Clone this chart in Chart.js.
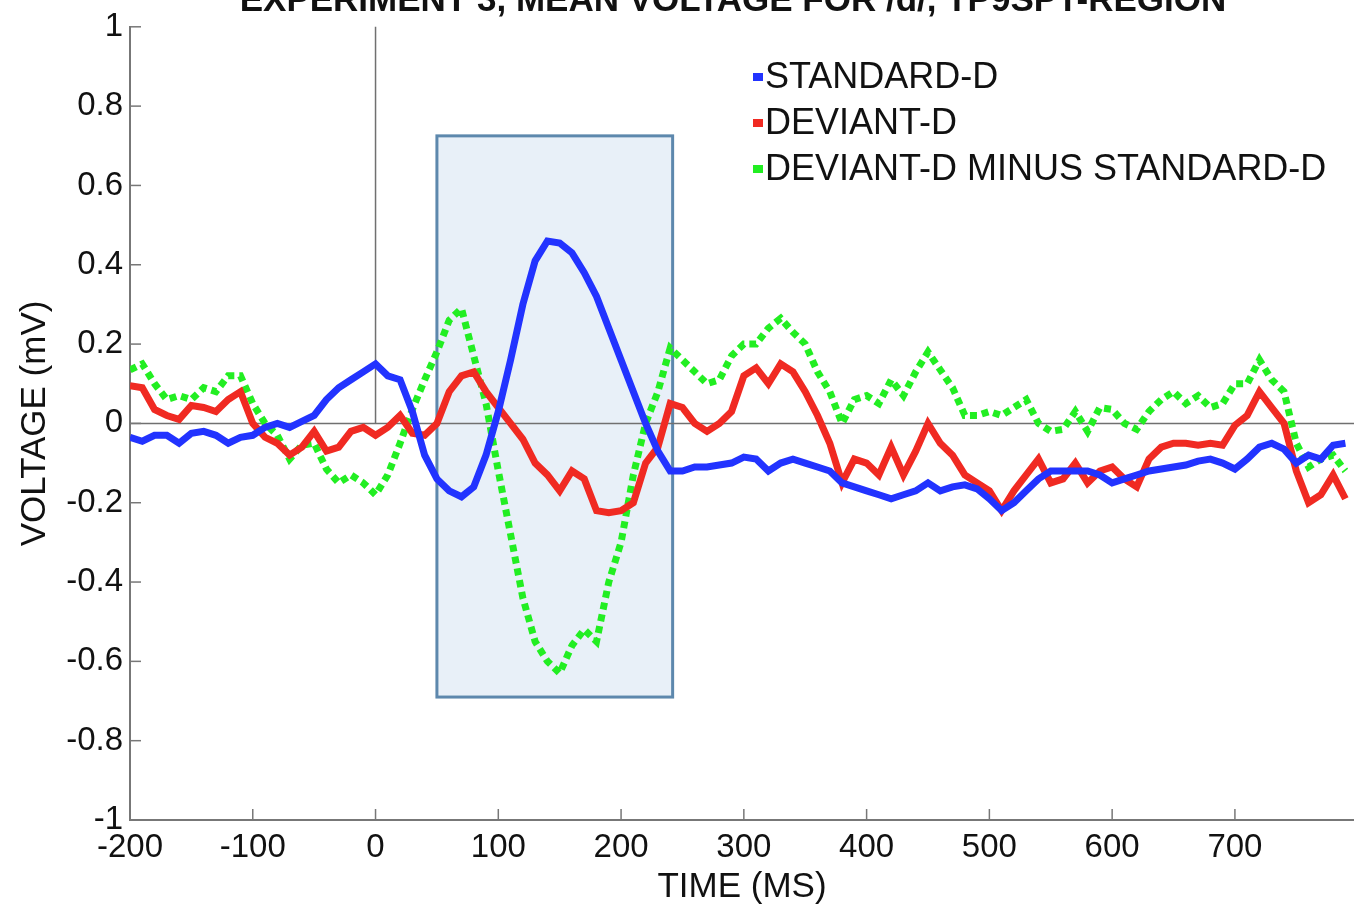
<!DOCTYPE html>
<html>
<head>
<meta charset="utf-8">
<script src="https://cdn.jsdelivr.net/npm/chart.js@4.4.1/dist/chart.umd.min.js"></script>
<style>
  html, body { margin: 0; padding: 0; background: #ffffff; }
  #wrap { width: 1354px; height: 909px; position: relative; }
</style>
</head>
<body>
<div id="wrap"><canvas id="c" width="1354" height="909"></canvas></div>
<script>
const chartTitle = "EXPERIMENT 3, MEAN VOLTAGE FOR /d/, TP9SPT-REGION";
const xAxisTitle = "TIME (MS)";
const yAxisTitle = "VOLTAGE (mV)";
const seriesLabels = ["STANDARD-D", "DEVIANT-D", "DEVIANT-D MINUS STANDARD-D"];

const times = [-200,-190,-180,-170,-160,-150,-140,-130,-120,-110,
  -100,-90,-80,-70,-60,-50,-40,-30,-20,-10,
  0,10,20,30,40,50,60,70,80,90,
  100,110,120,130,140,150,160,170,180,190,
  200,210,220,230,240,250,260,270,280,290,
  300,310,320,330,340,350,360,370,380,390,
  400,410,420,430,440,450,460,470,480,490,
  500,510,520,530,540,550,560,570,580,590,
  600,610,620,630,640,650,660,670,680,690,
  700,710,720,730,740,750,760,770,780,790];

const standardD = [-0.035,-0.045,-0.03,-0.03,-0.05,-0.025,-0.02,-0.03,-0.05,-0.035,
  -0.03,-0.01,0.0,-0.01,0.005,0.02,0.06,0.09,0.11,0.13,
  0.15,0.12,0.11,0.03,-0.08,-0.14,-0.17,-0.185,-0.16,-0.08,
  0.03,0.16,0.3,0.41,0.46,0.455,0.43,0.38,0.32,0.24,
  0.16,0.08,0.0,-0.07,-0.12,-0.12,-0.11,-0.11,-0.105,-0.1,
  -0.085,-0.09,-0.12,-0.1,-0.09,-0.1,-0.11,-0.12,-0.15,-0.16,
  -0.17,-0.18,-0.19,-0.18,-0.17,-0.15,-0.17,-0.16,-0.155,-0.165,
  -0.19,-0.22,-0.2,-0.17,-0.14,-0.12,-0.12,-0.12,-0.12,-0.13,
  -0.15,-0.14,-0.13,-0.12,-0.115,-0.11,-0.105,-0.095,-0.09,-0.1,
  -0.115,-0.09,-0.06,-0.05,-0.065,-0.1,-0.08,-0.09,-0.055,-0.05];

const deviantD = [0.095,0.09,0.035,0.02,0.01,0.045,0.04,0.03,0.06,0.08,
  0.0,-0.035,-0.05,-0.08,-0.06,-0.02,-0.07,-0.06,-0.02,-0.01,
  -0.03,-0.01,0.02,-0.025,-0.03,0.0,0.08,0.12,0.13,0.08,
  0.04,0.0,-0.04,-0.1,-0.13,-0.17,-0.12,-0.14,-0.22,-0.225,
  -0.22,-0.2,-0.1,-0.06,0.05,0.04,0.0,-0.02,0.0,0.03,
  0.12,0.14,0.1,0.15,0.13,0.08,0.02,-0.05,-0.15,-0.09,
  -0.1,-0.13,-0.06,-0.13,-0.07,0.0,-0.05,-0.08,-0.13,-0.15,
  -0.17,-0.22,-0.17,-0.13,-0.09,-0.15,-0.14,-0.1,-0.15,-0.12,
  -0.11,-0.14,-0.16,-0.09,-0.06,-0.05,-0.05,-0.055,-0.05,-0.055,
  -0.005,0.02,0.08,0.04,0.0,-0.12,-0.2,-0.18,-0.13,-0.19];

const differenceD = [0.135,0.15,0.1,0.06,0.07,0.06,0.09,0.08,0.12,0.12,
  0.05,0.0,-0.03,-0.09,-0.055,-0.05,-0.115,-0.15,-0.13,-0.15,
  -0.18,-0.13,-0.05,0.035,0.11,0.18,0.26,0.29,0.17,0.05,
  -0.12,-0.28,-0.44,-0.55,-0.6,-0.63,-0.56,-0.52,-0.55,-0.4,
  -0.3,-0.13,0.0,0.08,0.19,0.16,0.13,0.1,0.11,0.17,
  0.2,0.2,0.24,0.265,0.23,0.2,0.13,0.08,0.0,0.06,
  0.07,0.05,0.11,0.07,0.13,0.18,0.135,0.09,0.02,0.02,
  0.03,0.02,0.04,0.06,0.0,-0.02,-0.015,0.03,-0.02,0.04,
  0.035,0.0,-0.015,0.03,0.06,0.08,0.05,0.07,0.04,0.05,
  0.1,0.1,0.16,0.11,0.08,-0.05,-0.11,-0.09,-0.08,-0.12];

const xTickValues = [-200,-100,0,100,200,300,400,500,600,700];
const yTickValues = [-1,-0.8,-0.6,-0.4,-0.2,0,0.2,0.4,0.6,0.8,1];
const xRange = [-200, 797];
const yRange = [-1, 1];
const windowMs = [50, 242];
const windowMv = [-0.69, 0.725];

const toPoints = arr => times.map((t, i) => ({ x: t, y: arr[i] }));

const FONT = "'Liberation Sans', Arial, Helvetica, sans-serif";

const decorPlugin = {
  id: 'decor',
  beforeDatasetsDraw(chart) {
    const { ctx, chartArea, scales } = chart;
    const xs = scales.x, ys = scales.y;
    ctx.save();
    const x0 = xs.getPixelForValue(windowMs[0]);
    const x1 = xs.getPixelForValue(windowMs[1]);
    const y0 = ys.getPixelForValue(windowMv[1]);
    const y1 = ys.getPixelForValue(windowMv[0]);
    ctx.fillStyle = '#e8f0f8';
    ctx.fillRect(x0, y0, x1 - x0, y1 - y0);
    ctx.strokeStyle = '#5d88ad';
    ctx.lineWidth = 3;
    ctx.strokeRect(x0, y0, x1 - x0, y1 - y0);
    ctx.strokeStyle = '#707070';
    ctx.lineWidth = 1.5;
    const yz = ys.getPixelForValue(0);
    ctx.beginPath();
    ctx.moveTo(chartArea.left, yz);
    ctx.lineTo(chartArea.right, yz);
    ctx.stroke();
    const xz = xs.getPixelForValue(0);
    ctx.beginPath();
    ctx.moveTo(xz, ys.getPixelForValue(yRange[1]));
    ctx.lineTo(xz, yz);
    ctx.stroke();
    ctx.restore();
  },
  afterDraw(chart) {
    const { ctx, chartArea, scales } = chart;
    const xs = scales.x, ys = scales.y;
    ctx.save();
    ctx.strokeStyle = '#777777';
    ctx.lineWidth = 1.5;
    ys.ticks.forEach(t => {
      const y = ys.getPixelForValue(t.value);
      ctx.beginPath();
      ctx.moveTo(chartArea.left, y);
      ctx.lineTo(chartArea.left + 11, y);
      ctx.stroke();
    });
    xs.ticks.forEach(t => {
      const x = xs.getPixelForValue(t.value);
      ctx.beginPath();
      ctx.moveTo(x, chartArea.bottom);
      ctx.lineTo(x, chartArea.bottom - 11);
      ctx.stroke();
    });
    ctx.fillStyle = '#111111';
    ctx.font = "bold 35px " + FONT;
    ctx.textAlign = 'center';
    ctx.textBaseline = 'alphabetic';
    ctx.fillText(chartTitle, 733, 11);
    ctx.font = "36px " + FONT;
    ctx.textAlign = 'left';
    ctx.textBaseline = 'middle';
    const rows = [77, 123, 169];
    chart.data.datasets.forEach((ds, i) => {
      ctx.fillStyle = ds.borderColor;
      ctx.fillRect(753, rows[i] - 4, 10, 8);
      ctx.fillStyle = '#111111';
      ctx.fillText(ds.label, 765, rows[i] + 1);
    });
    ctx.restore();
  }
};

new Chart(document.getElementById('c'), {
  type: 'line',
  data: {
    datasets: [
      { label: seriesLabels[0], data: toPoints(standardD), borderColor: '#2233ff', borderWidth: 7, pointRadius: 0, tension: 0 },
      { label: seriesLabels[1], data: toPoints(deviantD), borderColor: '#f02a22', borderWidth: 7, pointRadius: 0, tension: 0 },
      { label: seriesLabels[2], data: toPoints(differenceD), borderColor: '#22ee22', borderWidth: 7, borderDash: [7, 5], pointRadius: 0, tension: 0 }
    ]
  },
  options: {
    responsive: false,
    animation: false,
    layout: { padding: { top: 22, right: 0, left: 0, bottom: 0 } },
    plugins: { legend: { display: false }, title: { display: false }, tooltip: { enabled: false } },
    scales: {
      x: {
        type: 'linear',
        min: xRange[0], max: xRange[1],
        grid: { display: false, drawTicks: false },
        border: { display: true, color: '#777777', width: 2 },
        afterBuildTicks: s => { s.ticks = xTickValues.map(v => ({ value: v })); },
        afterFit: s => { s.height = 89; },
        ticks: { color: '#111111', font: { family: FONT, size: 33 }, padding: 8, maxRotation: 0, autoSkip: false, callback: v => String(v) },
        title: { display: true, text: xAxisTitle, color: '#111111', font: { family: FONT, size: 35 }, padding: { top: 0, bottom: 1 } }
      },
      y: {
        type: 'linear',
        min: yRange[0], max: yRange[1],
        grid: { display: false, drawTicks: false },
        border: { display: true, color: '#777777', width: 2 },
        afterBuildTicks: s => { s.ticks = yTickValues.map(v => ({ value: v })); },
        afterFit: s => { s.width = 130; },
        ticks: { color: '#111111', font: { family: FONT, size: 33 }, padding: 7, callback: v => String(v) },
        title: { display: true, text: yAxisTitle, color: '#111111', font: { family: FONT, size: 35 }, padding: { top: 14, bottom: 0 } }
      }
    }
  },
  plugins: [decorPlugin]
});
</script>
</body>
</html>
